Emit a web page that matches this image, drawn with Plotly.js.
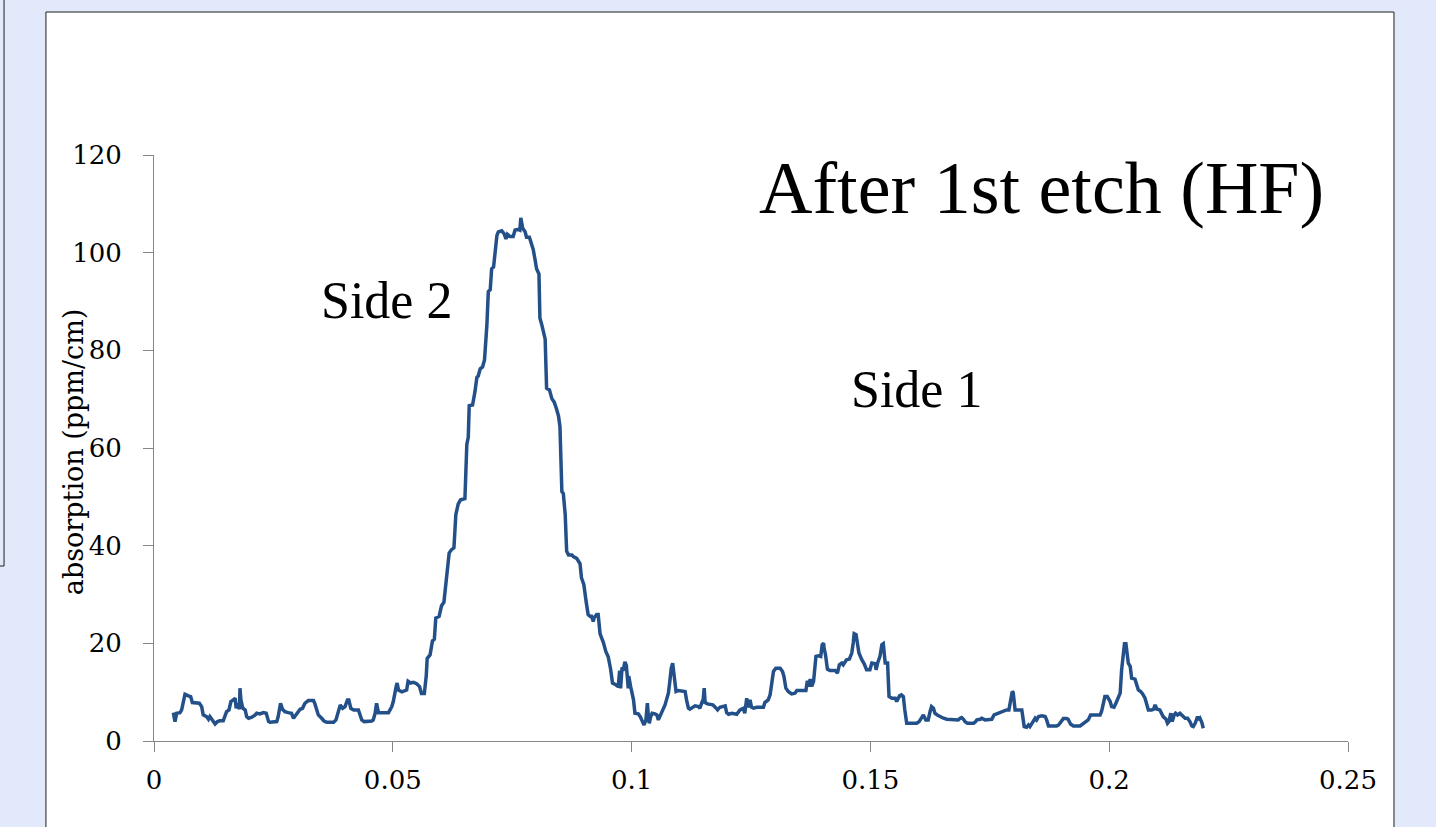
<!DOCTYPE html>
<html>
<head>
<meta charset="utf-8">
<script src="https://cdn.plot.ly/plotly-3.0.1.min.js"></script>
<style>
  html, body { margin: 0; padding: 0; background: #e1e9fa; }
  #chart { width: 1436px; height: 827px; }
</style>
</head>
<body>
<div id="chart"></div>
<script>
// ---- Data (position in cm, absorption in ppm/cm) ----
const posBaseLeft = [0.00405,0.00440,0.00475,0.00544,0.00579,0.00628,0.00649,0.00719,0.00768,0.00803,
  0.00949,0.00998,0.0103,0.0110,0.0114,0.0117,0.0121,0.0124,0.0128,0.0133,
  0.0138,0.0145,0.0149,0.0152,0.0157,0.0161,0.0166,0.0170,0.0172,0.0175,
  0.0179,0.0180,0.0182,0.0186,0.0191,0.0194,0.0198,0.0205,0.0212,0.0215,
  0.0222,0.0229,0.0235,0.0240,0.0243,0.0253,0.0257,0.0260,0.0265,0.0269,
  0.0274,0.0281,0.0288,0.0292,0.0299,0.0306,0.0311,0.0316,0.0323,0.0334,
  0.0337,0.0344,0.0351,0.0356,0.0362,0.0376,0.0381,0.0386,0.0390,0.0395,
  0.0400,0.0405,0.0408,0.0412,0.0418,0.0428,0.0431,0.0435,0.0440,0.0456,
  0.0459,0.0463,0.0466,0.0470,0.0480,0.0491,0.0498,0.0501];
const absBaseLeft = [5.81,3.97,5.68,5.81,6.36,8.55,9.58,9.24,9.10,7.87,
  7.73,7.05,5.34,5.00,4.45,5.00,4.45,3.97,3.49,3.97,
  4.17,4.17,5.34,6.02,6.36,8.07,8.42,8.76,6.70,7.73,
  6.50,10.81,8.42,6.70,6.36,5.00,4.65,4.86,5.34,5.68,
  5.54,5.81,5.68,3.97,3.83,3.83,3.97,5.00,7.73,6.50,
  6.02,5.81,5.68,4.65,5.54,6.50,6.70,7.73,8.28,8.28,
  7.60,5.34,4.65,4.10,3.83,3.83,4.31,6.02,7.39,6.70,
  7.05,8.42,8.42,6.70,6.36,6.36,5.34,4.31,3.97,4.10,
  4.31,5.68,7.73,5.81,5.81,5.81,7.05,8.07];

const posSide2 = [0.0507,0.0509,0.0512,0.0519,0.0529,0.0532,0.0537,0.0543,0.0550,0.0556,
  0.0560,0.0566,0.0570,0.0572,0.0578,0.0583,0.0587,0.0590,0.0597,0.0602,
  0.0607,0.0613,0.0618,0.0623,0.0628,0.0632,0.0637,0.0642,0.0651,0.0655,
  0.0658,0.0660,0.0667,0.0672,0.0676,0.0679,0.0683,0.0688,0.0692,0.0697,
  0.0700,0.0704,0.0707,0.0711,0.0713,0.0718,0.0721,0.0728,0.0733,0.0737,
  0.0740,0.0745,0.0752,0.0756,0.0763,0.0766,0.0768,0.0772,0.0777,0.0780,
  0.0786,0.0791,0.0794,0.0798,0.0801,0.0806,0.0808,0.0812,0.0815,0.0819,
  0.0822,0.0828,0.0833,0.0838,0.0843,0.0847,0.0850,0.0854,0.0857,0.0861,
  0.0864,0.0868,0.0875,0.0878,0.0885,0.0892,0.0895,0.0900,0.0905,0.0909,
  0.0913,0.0916,0.0920,0.0921,0.0927,0.0930,0.0934,0.0937,0.0941,0.0946,
  0.0951,0.0956,0.0960,0.0967,0.0972,0.0975,0.0977,0.0980,0.0982,0.0986,
  0.0989,0.0993,0.0994,0.0998];
const absSide2 = [11.15,11.87,10.43,10.07,10.43,12.23,11.87,12.01,11.73,11.15,
  9.71,9.71,13.31,16.90,17.62,20.50,20.86,25.17,25.53,27.69,
  28.41,33.44,38.47,39.19,39.55,46.38,48.54,49.40,49.62,60.76,
  62.20,68.67,68.81,71.54,74.42,74.78,76.22,76.58,78.02,85.21,
  92.04,92.40,96.71,97.07,99.23,103.54,104.26,104.48,103.90,102.82,
  103.76,103.33,103.33,104.62,104.76,104.62,107.14,104.98,104.26,103.18,
  103.18,101.38,100.66,98.51,96.71,95.63,86.64,85.21,83.77,82.33,
  72.26,71.90,70.11,69.39,67.95,66.51,64.36,51.05,50.69,46.38,
  38.83,38.11,38.11,37.75,37.39,36.31,33.44,32.00,28.41,25.89,
  25.53,25.53,24.45,25.17,25.89,25.89,21.93,21.22,20.14,18.34,
  17.26,14.74,11.87,11.51,11.15,14.38,10.79,15.10,14.38,16.18,
  15.46,10.79,13.31,11.15];

const posSide1 = [0.1004,0.1007,0.1014,0.1018,0.1021,0.1026,0.1030,0.1033,0.1035,0.1037,
  0.1040,0.1043,0.1049,0.1053,0.1056,0.1059,0.1065,0.1070,0.1073,0.1077,
  0.1080,0.1083,0.1086,0.1089,0.1093,0.1098,0.1105,0.1112,0.1115,0.1119,
  0.1122,0.1133,0.1140,0.1143,0.1147,0.1150,0.1152,0.1154,0.1159,0.1170,
  0.1175,0.1180,0.1185,0.1196,0.1199,0.1203,0.1210,0.1220,0.1227,0.1234,
  0.1237,0.1241,0.1244,0.1248,0.1251,0.1255,0.1262,0.1276,0.1279,0.1286,
  0.1290,0.1293,0.1297,0.1302,0.1311,0.1316,0.1319,0.1323,0.1328,0.1335,
  0.1342,0.1346,0.1353,0.1360,0.1365,0.1368,0.1370,0.1374,0.1377,0.1381,
  0.1384,0.1386,0.1391,0.1396,0.1399,0.1402,0.1403,0.1406,0.1410,0.1415,
  0.1426,0.1431,0.1435,0.1440,0.1443,0.1450,0.1456,0.1461,0.1464,0.1466,
  0.1470,0.1473,0.1476,0.1482,0.1487,0.1492,0.1499,0.1503,0.1510,0.1512,
  0.1515,0.1520,0.1524,0.1527,0.1531,0.1536,0.1539,0.1545,0.1552,0.1555,
  0.1559];
const absSide1 = [8.42,5.68,5.55,5.00,4.32,3.29,4.32,7.74,5.34,3.63,
  5.00,5.68,5.55,5.34,4.32,5.00,6.03,7.40,8.42,9.79,
  12.19,14.92,15.95,13.21,10.13,10.34,10.27,10.13,8.42,6.71,
  6.51,7.19,7.05,6.71,7.87,8.56,10.82,7.87,7.60,7.40,
  6.92,6.37,6.92,7.19,5.82,5.48,5.68,5.48,6.37,6.71,
  5.68,8.76,6.92,8.42,6.92,6.71,6.92,6.92,7.87,8.42,
  9.45,11.50,14.24,14.92,14.92,14.24,13.21,10.82,10.13,9.65,
  9.79,10.34,10.34,10.48,10.34,12.32,11.16,12.67,11.16,12.19,
  15.95,17.32,17.46,17.32,19.72,20.06,19.03,17.66,14.72,14.45,
  14.45,13.90,15.61,15.95,15.61,16.64,16.77,18.01,20.06,21.97,
  21.77,19.72,18.01,16.64,15.81,14.58,14.58,15.95,15.81,14.58,
  15.95,17.32,19.72,19.92,15.95,15.95,9.11,8.76,8.76,8.08,
  9.11];

const posBaseRight = [0.1561,0.1565,0.1569,0.1572,0.1576,0.1583,0.1597,0.1602,0.1607,0.1611,
  0.1616,0.1621,0.1625,0.1628,0.1632,0.1635,0.1640,0.1646,0.1653,0.1660,
  0.1670,0.1677,0.1684,0.1688,0.1691,0.1695,0.1698,0.1703,0.1716,0.1719,
  0.1723,0.1730,0.1733,0.1740,0.1750,0.1754,0.1759,0.1764,0.1771,0.1778,
  0.1785,0.1790,0.1794,0.1797,0.1799,0.1801,0.1803,0.1808,0.1817,0.1819,
  0.1822,0.1827,0.1831,0.1834,0.1838,0.1841,0.1845,0.1848,0.1852,0.1859,
  0.1866,0.1869,0.1873,0.1883,0.1890,0.1894,0.1901,0.1904,0.1911,0.1914,
  0.1919,0.1925,0.1939,0.1942,0.1949,0.1956,0.1961,0.1967,0.1981,0.1984,
  0.1988,0.1991,0.1996,0.2002,0.2005,0.2010,0.2014,0.2017,0.2021,0.2023,
  0.2026,0.2030,0.2032,0.2035,0.2037,0.2040,0.2044,0.2047,0.2054,0.2058,
  0.2061,0.2066,0.2070,0.2075,0.2078,0.2082,0.2089,0.2093,0.2096,0.2100,
  0.2106,0.2110,0.2113,0.2119,0.2122,0.2125,0.2129,0.2132,0.2136,0.2139,
  0.2143,0.2148,0.2155,0.2159,0.2164,0.2169,0.2173,0.2176,0.2180,0.2182,
  0.2185,0.2187,0.2190,0.2194,0.2197];
const absBaseRight = [9.24,9.45,9.11,6.37,3.63,3.63,3.63,3.97,4.66,5.34,
  4.32,4.32,6.03,7.05,6.71,5.68,5.34,5.00,4.66,4.45,
  4.45,4.45,4.32,4.66,4.79,4.45,3.97,3.63,3.63,3.83,
  4.32,4.45,4.66,4.32,4.45,4.45,5.34,5.55,5.82,6.23,
  6.37,6.37,8.42,10.13,9.93,8.08,6.37,6.37,6.37,5.00,
  2.95,2.81,3.29,2.95,3.63,3.97,4.66,4.32,5.00,5.14,
  5.00,4.32,3.08,3.08,3.08,3.29,4.32,4.59,4.59,4.45,
  3.49,3.08,3.08,3.29,3.97,4.32,5.34,5.34,5.34,6.03,
  8.08,9.11,9.11,8.08,7.05,6.92,7.74,8.42,9.45,9.79,
  14.58,18.35,19.92,19.92,18.01,15.95,15.27,12.87,12.67,11.50,
  10.48,10.13,9.65,8.76,7.74,6.37,6.37,6.51,7.40,6.51,
  6.37,5.68,5.00,4.45,3.63,3.97,5.68,3.97,5.34,5.68,
  5.34,5.68,5.00,4.66,4.66,3.97,3.08,2.95,3.63,4.32,
  5.00,4.32,4.66,3.77,2.60];

const xTickVals = [0, 0.05, 0.1, 0.15, 0.2, 0.25];
const xTickText = ['0', '0.05', '0.1', '0.15', '0.2', '0.25'];
const yTickVals = [0, 20, 40, 60, 80, 100, 120];
const yTickText = ['0', '20', '40', '60', '80', '100', '120'];

const yAxisTitle = 'absorption (ppm/cm)';
const chartTitle = 'After 1st etch (HF)';
const labelSide2 = 'Side 2';
const labelSide1 = 'Side 1';

// ---- Build trace ----
const position = [].concat(posBaseLeft, posSide2, posSide1, posBaseRight);
const absorption = [].concat(absBaseLeft, absSide2, absSide1, absBaseRight);

const trace = {
  x: position,
  y: absorption,
  type: 'scatter',
  mode: 'lines',
  line: { color: '#245089', width: 3.5 },
  hoverinfo: 'skip'
};

const tickFont = { family: 'DejaVu Serif', size: 26, color: '#000000' };
const axisGray = '#868686';

const layout = {
  width: 1436,
  height: 827,
  margin: { l: 154, r: 88, t: 155, b: 86, pad: 0 },
  paper_bgcolor: '#e1e9fa',
  plot_bgcolor: 'rgba(0,0,0,0)',
  showlegend: false,
  xaxis: {
    range: [0, 0.25],
    tickmode: 'array', tickvals: xTickVals, ticktext: xTickText,
    ticks: 'outside', ticklen: 10, tickwidth: 1, tickcolor: axisGray,
    showline: true, linecolor: axisGray, linewidth: 1,
    showgrid: false, zeroline: false,
    tickfont: tickFont, ticklabelstandoff: 6,
    fixedrange: true
  },
  yaxis: {
    range: [0, 120],
    tickmode: 'array', tickvals: yTickVals, ticktext: yTickText,
    ticks: 'outside', ticklen: 10, tickwidth: 1, tickcolor: axisGray,
    showline: true, linecolor: axisGray, linewidth: 1,
    showgrid: false, zeroline: false,
    tickfont: tickFont, ticklabelstandoff: 16,
    fixedrange: true
  },
  shapes: [
    { type: 'rect', xref: 'paper', yref: 'paper', layer: 'below',
      x0: -0.0905, x1: 1.0385, y0: -0.25, y1: 1.244,
      fillcolor: '#ffffff', line: { color: '#1e1e1e', width: 1 } },
    { type: 'line', xref: 'paper', yref: 'paper', layer: 'below',
      x0: -0.1256, x1: -0.1256, y0: 0.2986, y1: 1.30,
      line: { color: '#1e1e1e', width: 1 } },
    { type: 'line', xref: 'paper', yref: 'paper', layer: 'below',
      x0: -0.14, x1: -0.1256, y0: 0.2986, y1: 0.2986,
      line: { color: '#1e1e1e', width: 1 } }
  ],
  annotations: [
    { text: chartTitle, xref: 'paper', yref: 'paper', x: 0.743, y: 0.944,
      xanchor: 'center', yanchor: 'middle', showarrow: false,
      font: { family: 'Liberation Serif', size: 74, color: '#000000' } },
    { text: labelSide2, xref: 'paper', yref: 'paper', x: 0.1947, y: 0.751,
      xanchor: 'center', yanchor: 'middle', showarrow: false,
      font: { family: 'Liberation Serif', size: 52, color: '#000000' } },
    { text: labelSide1, xref: 'paper', yref: 'paper', x: 0.639, y: 0.599,
      xanchor: 'center', yanchor: 'middle', showarrow: false,
      font: { family: 'Liberation Serif', size: 52, color: '#000000' } },
    { text: yAxisTitle, xref: 'paper', yref: 'paper', x: -0.0678, y: 0.493,
      xanchor: 'center', yanchor: 'middle', textangle: -90, showarrow: false,
      font: { family: 'DejaVu Serif', size: 27, color: '#000000' } }
  ]
};

Plotly.newPlot('chart', [trace], layout, { displayModeBar: false, staticPlot: true });
</script>
</body>
</html>
